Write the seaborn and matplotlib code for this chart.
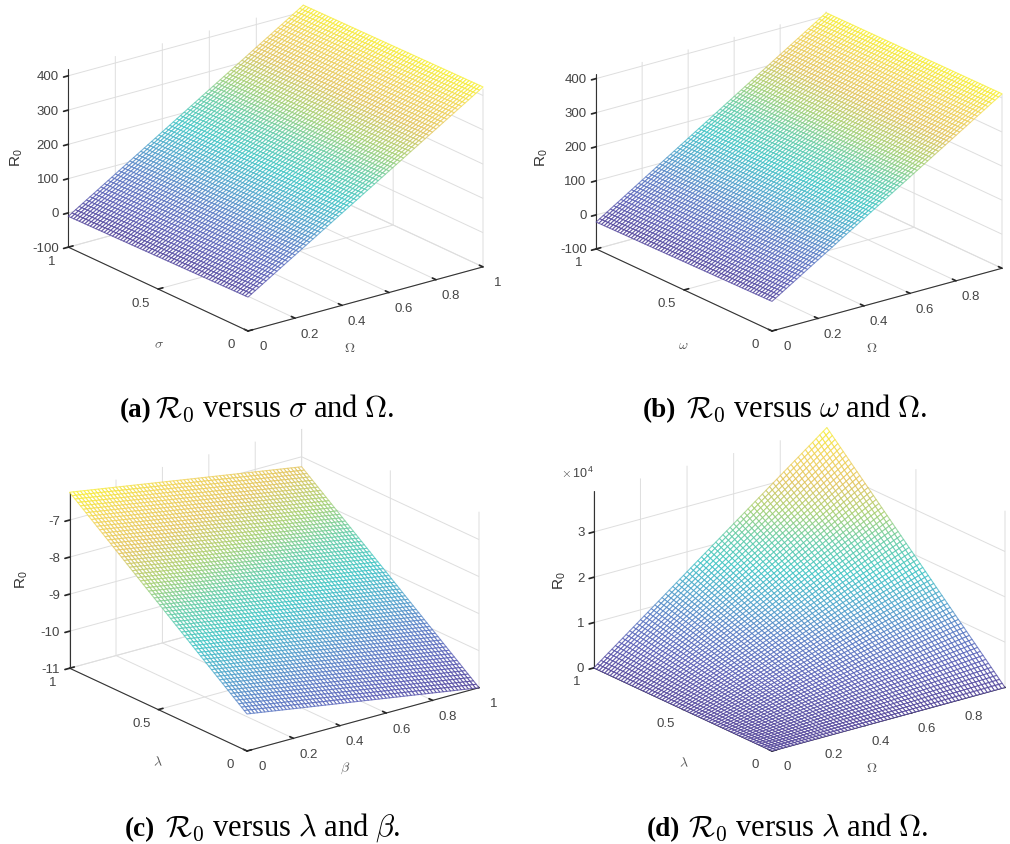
import numpy as np
import seaborn as sns
import matplotlib
matplotlib.use("Agg")
import matplotlib.pyplot as plt
from mpl_toolkits.mplot3d import proj3d

# corner values: rows y=0, y=1, columns x=0, x=1
r0_a = [[-1, 425], [-10, 419]]
r0_b = [[-13, 412], [-21, 409]]
r0_c = [[-10, -11], [-6.25, -7.27]]
r0_d = [[0, 0], [0, 39000]]

x_ticks = [0, 0.2, 0.4, 0.6, 0.8, 1]
x_ticklabels = ["0", "0.2", "0.4", "0.6", "0.8", "1"]
# panels (b) and (d) run off the page before the last label
x_ticklabels_cut = ["0", "0.2", "0.4", "0.6", "0.8", ""]
y_ticks = [0, 0.5, 1]
y_ticklabels = ["0", "0.5", "1"]
z_ticks_ab = [-100, 0, 100, 200, 300, 400]
z_ticklabels_ab = ["-100", "0", "100", "200", "300", "400"]
z_ticks_c = [-11, -10, -9, -8, -7]
z_ticklabels_c = ["-11", "-10", "-9", "-8", "-7"]
z_ticks_d = [0, 10000, 20000, 30000]
z_ticklabels_d = ["0", "1", "2", "3"]

panel_tags = ["(a)", "(b)", "(c)", "(d)"]
captions = [r"$\mathcal{R}_0$ versus $\sigma$ and $\Omega$.",
            r"$\mathcal{R}_0$ versus $\omega$ and $\Omega$.",
            r"$\mathcal{R}_0$ versus $\lambda$ and $\beta$.",
            r"$\mathcal{R}_0$ versus $\lambda$ and $\Omega$."]

W, H = 1010, 845
N_MESH = 66

sns.set_theme(style="white")
plt.rcParams["font.family"] = ["Liberation Sans", "DejaVu Sans"]
plt.rcParams["mathtext.fontset"] = "cm"
plt.rcParams["axes.unicode_minus"] = False
plt.rcParams["grid.color"] = "#dedede"
plt.rcParams["grid.linewidth"] = 0.7

parula = sns.blend_palette(["#40308f", "#4a4fb0", "#4a70c0", "#3f9cc8", "#2fc0c0",
                            "#55c8a0", "#a0cc66", "#e0c050", "#f0cf4a", "#f8f020"], as_cmap=True)


def place(ax, front, xend):
    # size and shift the 3d box so its floor edge lands on these pixels
    size = 400
    for i in range(2):
        ax.set_position([0.1, 0.1, size / W, size / H])
        ax.apply_aspect()
        M = ax.get_proj()
        pts = []
        for x, y in [(0, 0), (1, 0)]:
            tx, ty, _ = proj3d.proj_transform(x, y, ax.get_zlim()[0], M)
            pts.append(ax.transData.transform((tx, ty)))
        size = size * (xend[0] - front[0]) / (pts[1][0] - pts[0][0])
    ax.set_position([0.1, 0.1, size / W, size / H])
    ax.apply_aspect()
    tx, ty, _ = proj3d.proj_transform(0, 0, ax.get_zlim()[0], M)
    px = ax.transData.transform((tx, ty))
    ax.set_position([0.1 + (front[0] - px[0]) / W, 0.1 + (H - front[1] - px[1]) / H,
                     size / W, size / H])


def tick_text(ax, x, y, z, text, offset, ha="center"):
    # mplot3d tick labels can't be shifted, so annotate from the projected tick
    tx, ty, _ = proj3d.proj_transform(x, y, z, ax.get_proj())
    ax.annotate(text, (tx, ty), xytext=offset, textcoords="offset pixels", fontsize=9.5,
                color="#444444", ha=ha, va="center", annotation_clip=False)


def label(text, x, y, size=10, color="#555555", rotation=0):
    fig.text(x / W, 1 - y / H, text, fontsize=size, color=color, rotation=rotation,
             ha="center", va="center")


def panel(corners, zlim, zticks, zlabels, xlabels, front, xend):
    ax = fig.add_subplot(projection="3d", proj_type="ortho", elev=20.9, azim=-127.4)
    ax.set_box_aspect((1, 1, 0.645))
    ax.set_facecolor("none")

    # the dense mesh is only a bilinear fill between the corner values above
    c = np.array(corners, dtype=float)
    X, Y = np.meshgrid(np.linspace(0, 1, N_MESH), np.linspace(0, 1, N_MESH))
    Z = (1 - Y) * ((1 - X) * c[0, 0] + X * c[0, 1]) + Y * ((1 - X) * c[1, 0] + X * c[1, 1])
    surf = ax.plot_surface(X, Y, Z, rstride=1, cstride=1, color="white", shade=False, linewidth=0.8)
    mid = (Z[:-1, :-1] + Z[1:, :-1] + Z[:-1, 1:] + Z[1:, 1:]) / 4
    surf.set_edgecolor(parula((mid.ravel() - Z.min()) / (Z.max() - Z.min()), alpha=0.7))

    ax.set_xlim(0, 1, view_margin=0)
    ax.set_ylim(0, 1, view_margin=0)
    ax.set_zlim(zlim[0], zlim[1], view_margin=0)
    ax.set_xticks(x_ticks, [""] * len(x_ticks))
    ax.set_yticks(y_ticks, [""] * len(y_ticks))
    ax.set_zticks(zticks, [""] * len(zticks))
    for axis in [ax.xaxis, ax.yaxis, ax.zaxis]:
        axis.set_pane_color((1, 1, 1, 0))
        axis.pane.set_edgecolor("none")
        axis.line.set_color("#333333")
        axis.line.set_linewidth(0.8)
    ax.xaxis._axinfo["tick"].update(inward_factor=0, outward_factor=0.25)
    ax.yaxis._axinfo["tick"].update(inward_factor=0, outward_factor=0.25)
    ax.zaxis._axinfo["tick"].update(inward_factor=0.25, outward_factor=0)
    ax.tick_params(width=0.7)
    place(ax, front, xend)

    for v, s in zip(x_ticks, xlabels):
        tick_text(ax, v, 0, zlim[0], s, (15, -15.5))
    for v, s in zip(y_ticks, y_ticklabels):
        tick_text(ax, 0, v, zlim[0], s, (-17, -13.5))
    for v, s in zip(zticks, zlabels):
        tick_text(ax, 0, 1, v, s, (-9.5, -0.5), ha="right")
    return ax


fig = plt.figure(figsize=(W / 100, H / 100), dpi=100, facecolor="white")

panel(r0_a, (-100, 420), z_ticks_ab, z_ticklabels_ab, x_ticklabels, (248, 332), (483, 268))
panel(r0_b, (-100, 412), z_ticks_ab, z_ticklabels_ab, x_ticklabels_cut, (772, 332), (1002, 268))
panel(r0_c, (-11, -6.25), z_ticks_c, z_ticklabels_c, x_ticklabels, (247, 752), (479, 689))
panel(r0_d, (0, 39000), z_ticks_d, z_ticklabels_d, x_ticklabels_cut, (772, 752), (1005, 690))

r0_label = r"R$_{\mathregular{0}}$"
for x, y in [(17, 157), (542, 157), (22, 579), (560, 580)]:
    label(r0_label, x, y, size=11, color="#333333", rotation=90)
label(r"$\sigma$", 159, 344)
label(r"$\Omega$", 350, 348)
label(r"$\omega$", 683, 345)
label(r"$\Omega$", 872, 348)
label(r"$\lambda$", 158, 762)
label(r"$\beta$", 345, 768)
label(r"$\lambda$", 684, 763)
label(r"$\Omega$", 872, 768)
label(r"$\times\,\mathregular{10}^{\mathregular{4}}$", 577, 473, size=9, color="#444444")

tag_x = [120, 643, 125, 647]
text_x = [155, 686, 165, 688]
base_y = [417, 417, 836, 836]
for tag, cap, tx, cx, by in zip(panel_tags, captions, tag_x, text_x, base_y):
    fig.text(tx / W, 1 - by / H, tag, fontsize=19.5, family="Liberation Serif", weight="bold",
             color="black", ha="left", va="baseline")
    fig.text(cx / W, 1 - by / H, cap, fontsize=22, family="Liberation Serif", color="black",
             ha="left", va="baseline")

fig.savefig("out.png", dpi=100)
